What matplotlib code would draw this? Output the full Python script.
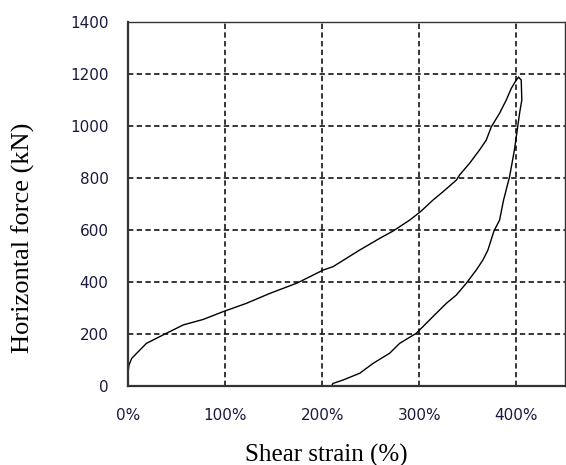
import matplotlib
matplotlib.use("Agg")
import matplotlib.pyplot as plt

# loading branch (shear strain %, horizontal force kN)
strain_load = [0, 1, 3.8, 9, 19, 36, 57, 77.5, 98, 122, 146, 173.5, 177, 201, 211.2,
               238.7, 259.3, 273, 290.1, 301.1, 314.1, 324.4, 338.2, 341.6, 351.9,
               362.1, 369, 374.2, 382.7, 389.6, 394.8, 399.9, 402.3]
force_load = [50, 80, 106, 126, 164, 196, 235, 256, 286, 318, 356, 395, 401, 446, 459,
              523, 568, 596, 638, 670, 715, 747, 792, 812, 857,
              908, 946, 997, 1049, 1100, 1145, 1177, 1187]

# unloading branch
strain_unload = [402.3, 405, 405.6, 403.3, 401.5, 398, 393, 386.8, 382.7, 376.9,
                 370.7, 365.6, 358.7, 348.4, 338.2, 327.9, 314.1, 297, 279.8, 269.5,
                 252.4, 238.7, 221.5, 211.2, 209.6]
force_unload = [1187, 1177, 1100, 1049, 1001, 908, 805, 715, 638, 596,
                523, 485, 446, 395, 350, 318, 267, 203, 164, 126,
                87, 49, 23, 10, 0]

x_ticks = [0, 100, 200, 300, 400]
x_ticklabels = ["0%", "100%", "200%", "300%", "400%"]
y_ticks = [0, 200, 400, 600, 800, 1000, 1200, 1400]

fig = plt.figure(figsize=(5.66, 4.65), dpi=100)
ax = fig.add_axes([0.2261, 0.1699, 0.772, 0.7828])

ax.plot(strain_load, force_load, color="black", lw=1.0)
ax.plot(strain_unload, force_unload, color="black", lw=1.0)

ax.set_xlim(0, 450)
ax.set_ylim(0, 1400)
ax.set_xticks(x_ticks)
ax.set_xticklabels(x_ticklabels)
ax.set_yticks(y_ticks)

ax.grid(True, color="black", linestyle=(0, (3.5, 2.2)), lw=1.1)
ax.tick_params(length=0, labelsize=11, labelcolor="#1a1a40")
ax.tick_params(axis="x", pad=16)
ax.tick_params(axis="y", pad=14)

for s in ax.spines.values():
    s.set_color("#333333")
    s.set_linewidth(1.0)
ax.spines["left"].set_linewidth(1.6)
ax.spines["bottom"].set_linewidth(1.6)

ax.set_xlabel("Shear strain (%)", family="Liberation Serif", fontsize=18)
ax.set_ylabel("Horizontal force (kN)", family="Liberation Serif", fontsize=19)
ax.xaxis.set_label_coords((326 - 128) / 437, -(455 - 386) / 364)
ax.yaxis.set_label_coords(-(128 - 23) / 437, (386 - 238) / 364)
ax.xaxis.label.set_va("center")
ax.yaxis.label.set_va("center")

fig.savefig("out.png", dpi=100)
